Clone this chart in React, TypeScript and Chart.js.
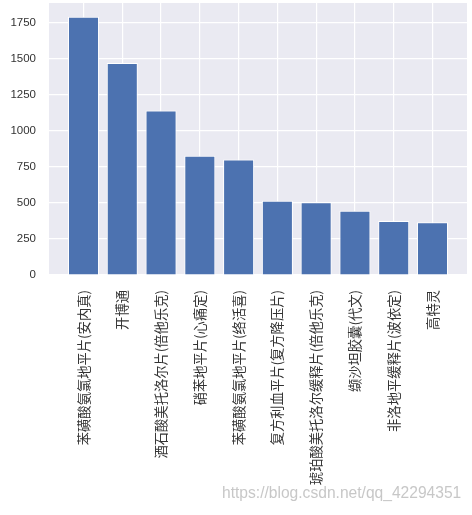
import { useEffect, useRef } from "react"
import { Chart, registerables } from "chart.js"

Chart.register(...registerables)

const drugNames = [
  "苯磺酸氨氯地平片(安内真)",
  "开博通",
  "酒石酸美托洛尔片(倍他乐克)",
  "硝苯地平片(心痛定)",
  "苯磺酸氨氯地平片(络活喜)",
  "复方利血平片(复方降压片)",
  "琥珀酸美托洛尔缓释片(倍他乐克)",
  "缬沙坦胶囊(代文)",
  "非洛地平缓释片(波依定)",
  "高特灵",
]
const counts = [1790, 1470, 1140, 827, 800, 515, 505, 445, 375, 366]
const yTicks = [0, 250, 500, 750, 1000, 1250, 1500, 1750]

const watermark = "https://blog.csdn.net/qq_42294351"

// seaborn-ish grey panel behind the plot
const panelBg = {
  id: "panelBg",
  beforeDraw(chart: Chart) {
    const { ctx, chartArea } = chart
    ctx.save()
    ctx.fillStyle = "#EAEAF2"
    ctx.fillRect(chartArea.left, chartArea.top, chartArea.right - chartArea.left, chartArea.bottom - chartArea.top)
    ctx.restore()
  },
}

const stamp = {
  id: "stamp",
  afterDraw(chart: Chart) {
    const { ctx } = chart
    ctx.save()
    ctx.font = "15.6px 'Liberation Sans', Arial, sans-serif"
    ctx.fillStyle = "rgba(175, 175, 175, 0.7)"
    ctx.textBaseline = "middle"
    ctx.fillText(watermark, 222, 494)
    ctx.restore()
  },
}

export default function App() {
  const chartRef = useRef<HTMLCanvasElement>(null)
  const chartInstance = useRef<Chart | null>(null)

  useEffect(() => {
    if (!chartRef.current) return
    const ctx = chartRef.current.getContext("2d")
    if (!ctx) return

    if (chartInstance.current) {
      chartInstance.current.destroy()
    }

    chartInstance.current = new Chart(ctx, {
      type: "bar",
      data: {
        datasets: [
          {
            data: counts.map((v, i) => ({ x: i, y: v })),
            backgroundColor: "#4C72B0",
            borderColor: "#ffffff",
            borderWidth: 1,
            barPercentage: 0.8,
            categoryPercentage: 1,
          },
        ],
      },
      options: {
        animation: false,
        responsive: true,
        maintainAspectRatio: false,
        layout: { padding: { top: 3, right: 5, left: 0, bottom: 0 } },
        plugins: {
          legend: { display: false },
          tooltip: { enabled: false },
        },
        scales: {
          x: {
            type: "linear",
            min: -0.89,
            max: 9.89,
            offset: false,
            border: { display: false },
            grid: { color: "#ffffff", lineWidth: 1.2, drawTicks: false, offset: false },
            afterFit: (axis: any) => {
              axis.height = 240
              axis.paddingLeft = 0
              axis.paddingRight = 0
            },
            ticks: {
              stepSize: 1,
              includeBounds: false,
              autoSkip: false,
              maxRotation: 90,
              minRotation: 90,
              padding: 15,
              color: "#333333",
              font: { family: "'Noto Sans CJK SC', sans-serif", size: 13.3 },
              callback: (value: any) => drugNames[value as number] ?? "",
            },
          },
          y: {
            min: 0,
            max: 1885,
            border: { display: false },
            grid: { color: "#ffffff", lineWidth: 1.2, drawTicks: false },
            afterFit: (axis: any) => {
              axis.width = 49
              axis.paddingTop = 0
              axis.paddingBottom = 0
            },
            afterBuildTicks: (axis: any) => {
              axis.ticks = yTicks.map((v) => ({ value: v }))
            },
            ticks: {
              padding: 13,
              color: "#333333",
              font: { family: "'Liberation Sans', Arial, sans-serif", size: 11.5 },
              callback: (value: any) => String(value),
            },
          },
        },
      },
      plugins: [panelBg, stamp],
    })

    return () => {
      if (chartInstance.current) {
        chartInstance.current.destroy()
        chartInstance.current = null
      }
    }
  }, [])

  return (
    <div style={{ position: "fixed", left: 0, top: 0, width: 472, height: 515, background: "#ffffff" }}>
      <canvas ref={chartRef} />
    </div>
  )
}
